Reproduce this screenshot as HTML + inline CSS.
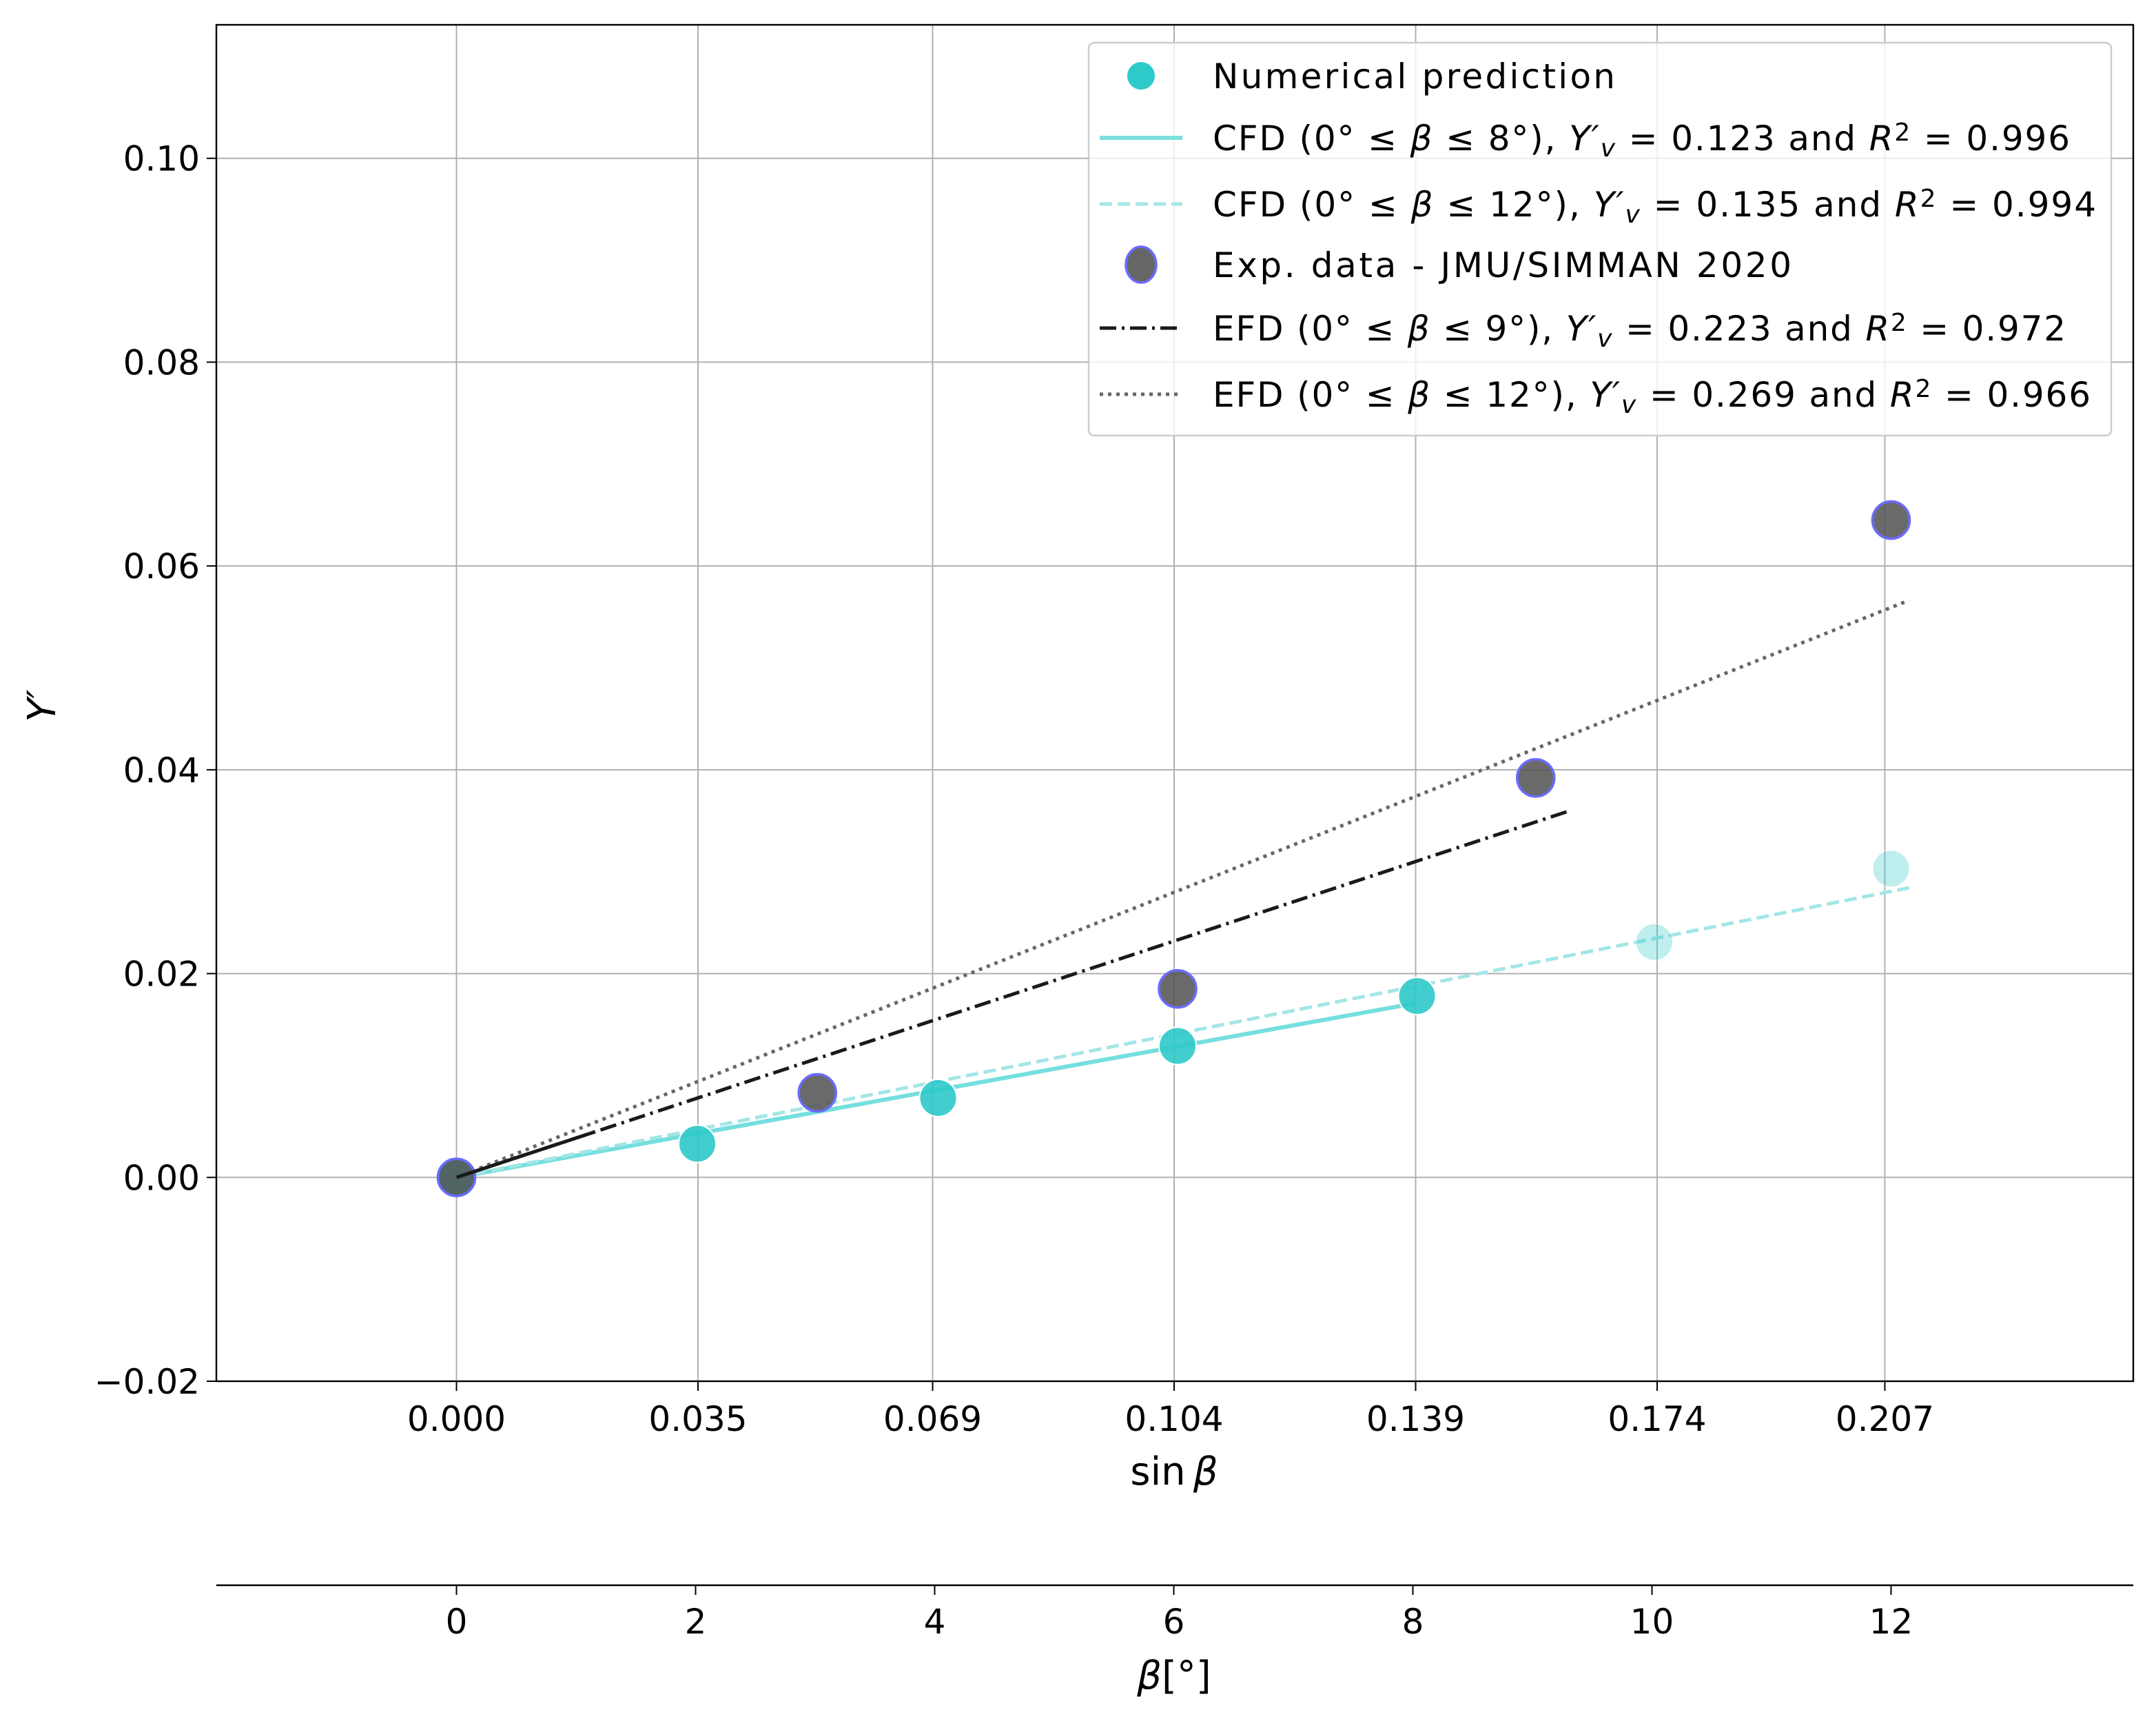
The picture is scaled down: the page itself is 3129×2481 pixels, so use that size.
<!DOCTYPE html>
<html><head><meta charset="utf-8"><style>
html,body{margin:0;padding:0;background:#fff}
svg{display:block;font-family:"DejaVu Sans","Liberation Sans",sans-serif}
</style></head><body>
<svg id="chart" width="3129" height="2481" viewBox="0 0 1564.5 1240.5" xmlns="http://www.w3.org/2000/svg">
<g id="grid"></g>
<g id="series"></g>
<g id="axes"></g>
<g id="legend"></g>
</svg>
<script>
const xTicks = [0.000, 0.035, 0.069, 0.104, 0.139, 0.174, 0.207];
const xTickLabels = ["0.000","0.035","0.069","0.104","0.139","0.174","0.207"];
const yTicks = [-0.02, 0.00, 0.02, 0.04, 0.06, 0.08, 0.10];
const yTickLabels = ["\u22120.02","0.00","0.02","0.04","0.06","0.08","0.10"];
const degTicks = [0, 2, 4, 6, 8, 10, 12];
const numX = [0, 0.0349, 0.0698, 0.1045, 0.1392];
const numY = [0, 0.0033, 0.0078, 0.0129, 0.0178];
const numFadedX = [0.1736, 0.2079];
const numFadedY = [0.0231, 0.0303];
const expX = [0, 0.0523, 0.1045, 0.1564, 0.2079];
const expY = [0, 0.0083, 0.0185, 0.0392, 0.0645];
const fitSlopes = [0.123, 0.135, 0.223, 0.269];
const fitEnds = [0.139, 0.2105, 0.161, 0.2105];

const L=157, R=1548, T=18, B=1002;
const xMin=-0.0348, xMax=0.2430, yMin=-0.02, yMax=0.1131;
const sx = v => L + (v - xMin) / (xMax - xMin) * (R - L);
const sy = v => B - (v - yMin) / (yMax - yMin) * (B - T);
const sd = d => sx(0) + d * (sx(0.2079) - sx(0)) / 12;
const NS="http://www.w3.org/2000/svg";
function mk(tag, attrs, parent, text){
  const e=document.createElementNS(NS,tag);
  for(const k in attrs) e.setAttribute(k, attrs[k]);
  if(text!==undefined) e.textContent=text;
  parent.appendChild(e); return e;
}
const grid=document.getElementById('grid'), series=document.getElementById('series'),
      axes=document.getElementById('axes'), legend=document.getElementById('legend');

xTicks.forEach((v,i)=>{
  const g=mk('line',{x1:sx(v),x2:sx(v),y1:T,y2:B,stroke:'#b0b0b0','stroke-width':1},grid);
   
  const t=mk('line',{x1:sx(v),x2:sx(v),y1:B,y2:B+7,stroke:'#000','stroke-width':1},axes);
   
  const l=mk('text',{x:sx(v),y:B+36,'font-size':25,'text-anchor':'middle'},axes,xTickLabels[i]);
   
});
yTicks.forEach((v,i)=>{
  const g=mk('line',{x1:L,x2:R,y1:sy(v),y2:sy(v),stroke:'#b0b0b0','stroke-width':1},grid);
   
  const t=mk('line',{x1:L-7,x2:L,y1:sy(v),y2:sy(v),stroke:'#000','stroke-width':1},axes);
   
  const l=mk('text',{x:L-12,y:sy(v)+9,'font-size':25,'text-anchor':'end'},axes,yTickLabels[i]);
   
});
const frame=mk('rect',{x:L,y:T,width:R-L,height:B-T,fill:'none',stroke:'#000','stroke-width':1.2},axes);
 

const ax2=mk('line',{x1:L,x2:R,y1:1150,y2:1150,stroke:'#000','stroke-width':1.2},axes);
 
degTicks.forEach(d=>{
  const t=mk('line',{x1:sd(d),x2:sd(d),y1:1150,y2:1157,stroke:'#000','stroke-width':1},axes);
   
  const l=mk('text',{x:sd(d),y:1185,'font-size':25,'text-anchor':'middle'},axes,String(d));
   
});
const xt=mk('text',{x:852,y:1077,'font-size':28,'text-anchor':'middle'},axes);
 
mk('tspan',{},xt,'sin\u2009'); mk('tspan',{'font-style':'italic'},xt,'\u03b2');
const bt=mk('text',{x:852,y:1225,'font-size':28,'text-anchor':'middle'},axes);
 
mk('tspan',{'font-style':'italic'},bt,'\u03b2'); mk('tspan',{},bt,'[\u00b0]');
const yt=mk('text',{x:0,y:0,'font-size':28,'text-anchor':'middle','font-style':'italic',transform:'translate(40,512) rotate(-90)'},axes,'Y\u2032');
 

const fitStyles=[
 {stroke:'#5dd8d8','stroke-width':3,opacity:0.85,name:'cfd-fit-8deg'},
 {stroke:'#a3e6e6','stroke-width':2.5,'stroke-dasharray':'9,4',name:'cfd-fit-12deg'},
 {stroke:'#1a1a1a','stroke-width':2.5,'stroke-dasharray':'12,4,2,4',name:'efd-fit-9deg'},
 {stroke:'#666','stroke-width':2.5,'stroke-dasharray':'2.5,3.5',name:'efd-fit-12deg'}];
fitSlopes.forEach((s,i)=>{
  const st=fitStyles[i];
  const a={x1:sx(0),y1:sy(0),x2:sx(fitEnds[i]),y2:sy(s*fitEnds[i]),fill:'none'};
  for(const k in st) if(k!=='name') a[k]=st[k];
  const ln=mk('line',a,series);
   
});
numFadedX.forEach((x,i)=>{
  const c=mk('circle',{cx:sx(x),cy:sy(numFadedY[i]),r:13.5,fill:'#2ec9c9',opacity:0.3,stroke:'#fff','stroke-width':1},series);
   
});
numX.forEach((x,i)=>{
  const c=mk('circle',{cx:sx(x),cy:sy(numY[i]),r:13.5,fill:'#2ec9c9','fill-opacity':0.9,stroke:'#fff','stroke-width':1},series);
   
});
expX.forEach((x,i)=>{
  const c=mk('circle',{cx:sx(x),cy:sy(expY[i]),r:13.5,fill:'#555','fill-opacity':0.88,'stroke':'#6b6bff','stroke-width':1.8},series);
   
});
const originLine=mk('line',{x1:sx(0),y1:sy(0),x2:sx(0.02),y2:sy(0.223*0.02),stroke:'#1a1a1a','stroke-width':2.5},series);
 

const lb=mk('rect',{x:790,y:31,width:742,height:285,rx:4,fill:'#fff','fill-opacity':0.8,stroke:'#ccc','stroke-width':1.2},legend);
 
const rows=[55,100,148,192,238,286];
const rowWidths=[292,622,641,420,619,637];
function addLabel(idx,parts){
  const y=rows[idx];
  const t=mk('text',{x:880,y:y+9,'font-size':25,textLength:rowWidths[idx],lengthAdjust:'spacing'},legend);
   
  parts.forEach(p=>{
    const a={}; if(p.i) a['font-style']='italic';
    if(p.sub){a['baseline-shift']='-25%';a['font-size']=18;}
    if(p.sup){a['baseline-shift']='40%';a['font-size']=18;}
    mk('tspan',a,t,p.t);
  });
}
function fitParts(name,deg,yv,r2){
  return [{t:name+' (0\u00b0 \u2264 '},{t:'\u03b2',i:1},{t:' \u2264 '+deg+'\u00b0), '},{t:'Y\u2032',i:1},{t:'v',i:1,sub:1},
          {t:' = '+yv+' and '},{t:'R',i:1},{t:'2',sup:1},{t:' = '+r2}];
}
let e;
e=mk('circle',{cx:828,cy:rows[0],r:10,fill:'#2ec9c9'},legend);
 
addLabel(0,[{t:'Numerical prediction'}]);
e=mk('line',{x1:798,x2:858,y1:rows[1],y2:rows[1],stroke:'#7fdede','stroke-width':3},legend);
 
addLabel(1,fitParts('CFD',8,'0.123','0.996'));
e=mk('line',{x1:798,x2:858,y1:rows[2],y2:rows[2],stroke:'#a3e6e6','stroke-width':2.5,'stroke-dasharray':'9,4'},legend);
 
addLabel(2,fitParts('CFD',12,'0.135','0.994'));
e=mk('ellipse',{cx:828,cy:rows[3],rx:11,ry:13,fill:'#666',stroke:'#6b6bff','stroke-width':1.8},legend);
 
addLabel(3,[{t:'Exp. data - JMU/SIMMAN 2020'}]);
e=mk('line',{x1:798,x2:858,y1:rows[4],y2:rows[4],stroke:'#1a1a1a','stroke-width':2.5,'stroke-dasharray':'12,4,2,4'},legend);
 
addLabel(4,fitParts('EFD',9,'0.223','0.972'));
e=mk('line',{x1:798,x2:858,y1:rows[5],y2:rows[5],stroke:'#666','stroke-width':2.5,'stroke-dasharray':'2.5,3.5'},legend);
 
addLabel(5,fitParts('EFD',12,'0.269','0.966'));
</script>
</body></html>
